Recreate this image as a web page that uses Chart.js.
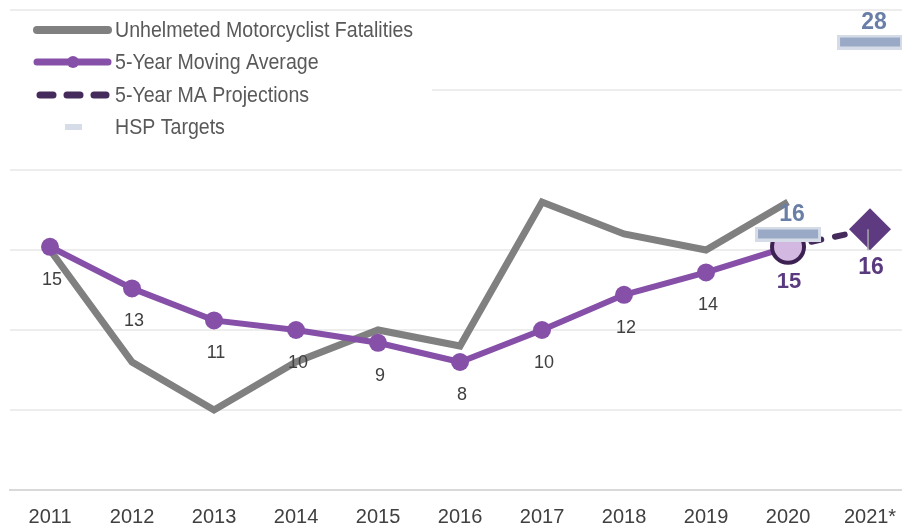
<!DOCTYPE html>
<html><head><meta charset="utf-8">
<script src="https://cdn.jsdelivr.net/npm/chart.js@4.4.1/dist/chart.umd.min.js"></script>
<style>html,body{margin:0;padding:0;background:#fff;}canvas{display:block;}</style>
</head><body>
<canvas id="c" width="902" height="525"></canvas>
<script>
const years = ['2011','2012','2013','2014','2015','2016','2017','2018','2019','2020','2021*'];
const fatalities = [15, 8, 5, 8, 10, 9, 18, 16, 15, 18, null];
const movingAvg = [15.2, 12.6, 10.6, 10.0, 9.2, 8.0, 10.0, 12.2, 13.6, 15.2, null];
const projection = [null, null, null, null, null, null, null, null, null, 15.2, 16.3];
const hspTargets = [null, null, null, null, null, null, null, null, null, 16, 28];
const yTicks = [0, 5, 10, 15, 20, 25, 30];
const legendNames = ['Unhelmeted Motorcyclist Fatalities','5-Year Moving Average','5-Year MA Projections','HSP Targets'];

const toXY = arr => arr.map((v, i) => ({x: i, y: v}));

function targetMarker() {
  const c = document.createElement('canvas');
  c.width = 66; c.height = 15;
  const g = c.getContext('2d');
  g.fillStyle = '#D5DCE8'; g.fillRect(0, 0, 66, 15);
  g.fillStyle = '#9AAAC6'; g.fillRect(3, 3, 60, 9);
  return c;
}
const marker = targetMarker();
const last = movingAvg.length - 1;
const maIdx = movingAvg.reduce((a, v, i) => v !== null ? i : a, 0);
const noPad = s => { s.paddingLeft = 0; s.paddingRight = 0; s.paddingTop = 0; s.paddingBottom = 0; };

const labelPlugin = {
  id: 'customLabels',
  afterDatasetsDraw(chart) {
    const ctx = chart.ctx;
    ctx.save();
    ctx.textAlign = 'center';
    ctx.textBaseline = 'middle';
    const ma = chart.getDatasetMeta(1).data;
    ma.forEach((pt, i) => {
      const v = movingAvg[i];
      if (v === null || pt.skip) return;
      if (i === maIdx) {
        ctx.font = 'bold 22px "Liberation Sans", Arial, sans-serif';
        ctx.fillStyle = '#5A3A7E';
        ctx.fillText(String(Math.round(v)), pt.x + 1, pt.y + 35);
      } else {
        ctx.font = '18px "Liberation Sans", Arial, sans-serif';
        ctx.fillStyle = '#404040';
        ctx.fillText(String(Math.round(v)), pt.x + 2, pt.y + 33);
      }
    });
    const pr = chart.getDatasetMeta(2).data[last];
    if (pr) {
      ctx.strokeStyle = '#A8A8A8';
      ctx.lineWidth = 1.5;
      ctx.beginPath(); ctx.moveTo(pr.x - 2, pr.y); ctx.lineTo(pr.x - 2, pr.y + 21); ctx.stroke();
      ctx.font = 'bold 23px "Liberation Sans", Arial, sans-serif';
      ctx.fillStyle = '#5A3A7E';
      ctx.fillText(String(Math.round(projection[last])), pr.x + 1, pr.y + 38);
    }
    const tg = chart.getDatasetMeta(3).data;
    tg.forEach((pt, i) => {
      const v = hspTargets[i];
      if (v === null || pt.skip) return;
      ctx.font = 'bold 23px "Liberation Sans", Arial, sans-serif';
      ctx.fillStyle = '#6A7FA8';
      ctx.fillText(String(v), pt.x + 4, pt.y - 19);
    });
    ctx.restore();
  },
  afterDraw(chart) {
    const ctx = chart.ctx;
    ctx.save();
    ctx.fillStyle = '#FFFFFF';
    ctx.fillRect(0, 14, 432, 136);
    ctx.lineCap = 'round';
    ctx.strokeStyle = '#808080'; ctx.lineWidth = 8;
    ctx.beginPath(); ctx.moveTo(37, 30); ctx.lineTo(108, 30); ctx.stroke();
    ctx.strokeStyle = '#8650A8'; ctx.lineWidth = 7;
    ctx.beginPath(); ctx.moveTo(37, 62); ctx.lineTo(108, 62); ctx.stroke();
    ctx.fillStyle = '#8650A8';
    ctx.beginPath(); ctx.arc(73, 62, 6, 0, Math.PI * 2); ctx.fill();
    ctx.strokeStyle = '#452A5C'; ctx.lineWidth = 7;
    [[40, 53], [67, 80], [94, 106]].forEach(s => {
      ctx.beginPath(); ctx.moveTo(s[0], 95); ctx.lineTo(s[1], 95); ctx.stroke();
    });
    ctx.fillStyle = '#D6DCE8';
    ctx.fillRect(65, 124, 17, 6);
    ctx.fillStyle = '#595959';
    ctx.font = '22px "Liberation Sans", Arial, sans-serif';
    ctx.textBaseline = 'middle';
    ctx.textAlign = 'left';
    const ys = [30, 62, 95, 127];
    legendNames.forEach((t, i) => {
      ctx.save();
      ctx.translate(115, ys[i]);
      ctx.scale(0.89, 1);
      ctx.fillText(t, 0, 1);
      ctx.restore();
    });
    ctx.restore();
  }
};

new Chart(document.getElementById('c'), {
  type: 'line',
  data: {
    datasets: [
      {
        label: legendNames[0], data: toXY(fatalities), order: 4,
        borderColor: '#808080', borderWidth: 7, pointRadius: 0, fill: false, tension: 0
      },
      {
        label: legendNames[1], data: toXY(movingAvg), order: 2,
        borderColor: '#8650A8', borderWidth: 6, fill: false, tension: 0,
        pointRadius: movingAvg.map((v, i) => i === maIdx ? 16 : 9),
        pointBackgroundColor: movingAvg.map((v, i) => i === maIdx ? '#D3B9E2' : '#8650A8'),
        pointBorderColor: movingAvg.map((v, i) => i === maIdx ? '#3D2152' : '#8650A8'),
        pointBorderWidth: movingAvg.map((v, i) => i === maIdx ? 4 : 0)
      },
      {
        label: legendNames[2], data: toXY(projection), order: 3,
        borderColor: '#452A5C', borderWidth: 6, borderDash: [10, 14], borderCapStyle: 'round',
        fill: false, tension: 0,
        pointStyle: 'rectRot',
        pointRadius: projection.map((v, i) => i === last ? 21 : 0),
        pointBackgroundColor: '#5E3A80', pointBorderColor: '#5E3A80', pointBorderWidth: 0
      },
      {
        label: legendNames[3], data: toXY(hspTargets), order: 1,
        showLine: false, pointStyle: marker, pointRadius: 10
      }
    ]
  },
  options: {
    responsive: false,
    animation: false,
    devicePixelRatio: 1,
    layout: { autoPadding: false, padding: { left: 10, right: 0, top: 10, bottom: -19 } },
    plugins: { legend: { display: false }, tooltip: { enabled: false } },
    scales: {
      x: {
        type: 'linear', min: -0.488, max: 10.39,
        grid: { display: false, drawTicks: false },
        border: { display: true, color: '#D9D9D9', width: 2 },
        afterBuildTicks: s => { s.ticks = years.map((_, i) => ({ value: i })); },
        afterFit: noPad,
        ticks: {
          autoSkip: false, maxRotation: 0, padding: 15,
          color: '#404040',
          font: { family: '"Liberation Sans", Arial, sans-serif', size: 20 },
          callback: v => years[v]
        }
      },
      y: {
        min: yTicks[0], max: yTicks[yTicks.length - 1],
        afterBuildTicks: s => { s.ticks = yTicks.map(v => ({ value: v })); },
        afterFit: s => { noPad(s); s.width = 0; },
        ticks: { display: false },
        grid: { color: '#EDEDED', lineWidth: 2, drawTicks: false },
        border: { display: false }
      }
    }
  },
  plugins: [labelPlugin]
});
</script>
</body></html>
